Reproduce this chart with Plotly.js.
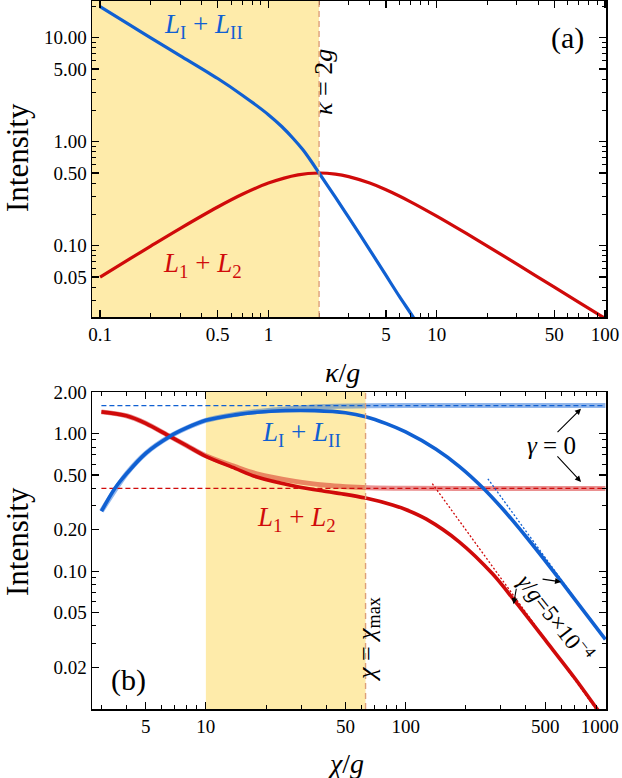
<!DOCTYPE html>
<html>
<head>
<meta charset="utf-8">
<script src="https://cdn.plot.ly/plotly-3.0.1.min.js"></script>
<style>html,body{margin:0;padding:0;background:#fff;}#chart{width:622px;height:778px;}</style>
</head>
<body>
<div id="chart"></div>
<script>
// ---------- Panel (a) data ----------
const kappaBlue = [0.1, 0.15, 0.2, 0.3, 0.5, 0.7, 1.0, 1.2, 1.4, 1.6, 1.8, 2.0, 2.5, 3.0, 4.0, 5.0, 6.0, 7.3, 8.0];
const blueA     = [19.9, 13.3, 9.95, 6.7, 4.05, 2.8, 1.82, 1.4, 1.08, 0.84, 0.645, 0.5, 0.293, 0.187, 0.0913, 0.0517, 0.0325, 0.0202, 0.0158];
const kappaRed  = [0.1, 0.15, 0.2, 0.3, 0.5, 0.7, 1, 1.5, 2, 2.5, 3, 4, 5, 7, 10, 15, 20, 30, 50, 70, 100];
const redA      = [0.0499, 0.0746, 0.099, 0.1467, 0.2353, 0.3118, 0.4, 0.48, 0.5, 0.4878, 0.4615, 0.4, 0.3448, 0.2642, 0.1923, 0.131, 0.099, 0.0664, 0.0399, 0.0285, 0.02];
const kappaMark = 2;          // kappa = 2g
const kappaTicks = [0.1, 0.5, 1, 5, 10, 50, 100];
const kappaTickText = ['0.1', '0.5', '1', '5', '10', '50', '100'];
const intTicksA = [0.05, 0.1, 0.5, 1, 5, 10];
const intTickTextA = ['0.05', '0.10', '0.50', '1.00', '5.00', '10.00'];

// ---------- Panel (b) data ----------
const chiBlue  = [3, 3.5, 4, 5, 6.6, 8, 10, 14, 18, 25, 35, 50, 63, 80, 100, 142, 186, 244, 307, 401, 500, 700, 1000];
const blueB    = [0.273, 0.40, 0.51, 0.72, 0.955, 1.1, 1.25, 1.37, 1.43, 1.47, 1.47, 1.42, 1.33, 1.184, 1.03, 0.771, 0.577, 0.403, 0.282, 0.178, 0.119, 0.063, 0.0319];
const chiRed   = [3, 4, 5, 6.6, 8, 10, 14, 18, 28, 40, 50, 63, 86, 100, 127, 186, 273, 351, 505, 700, 881, 1000];
const redB     = [1.44, 1.35, 1.19, 0.955, 0.82, 0.684, 0.56, 0.484, 0.415, 0.38, 0.362, 0.34, 0.303, 0.281, 0.239, 0.163, 0.0953, 0.061, 0.031, 0.0168, 0.0106, 0.0082];
const chiBlue0 = [3, 4, 5, 6.6, 8, 10, 14, 18, 25, 32, 45, 65, 100, 1000];
const blueB0   = [0.273, 0.51, 0.72, 0.955, 1.1, 1.25, 1.38, 1.45, 1.51, 1.55, 1.58, 1.595, 1.6, 1.6];
const chiRed0  = [3, 4, 5, 6.6, 8, 10, 14, 18, 28, 40, 50, 65, 100, 200, 1000];
const redB0    = [1.44, 1.35, 1.19, 0.955, 0.82, 0.69, 0.575, 0.51, 0.45, 0.422, 0.412, 0.405, 0.401, 0.4, 0.4];
const chiLimit = [3, 1000];
const blueLimit = [1.6, 1.6];
const redLimit  = [0.4, 0.4];
const chiAsymBlue = [258, 1000];
const blueAsym    = [0.47, 0.0314];
const chiAsymRed  = [136, 1000];
const redAsym     = [0.433, 0.008];
const chiShadeStart = 10;
const chiMax = 63;
const chiTicks = [5, 10, 50, 100, 500, 1000];
const chiTickText = ['5', '10', '50', '100', '500', '1000\u2009\u2009\u2009'];
const intTicksB = [0.02, 0.05, 0.1, 0.2, 0.5, 1, 2];
const intTickTextB = ['0.02', '0.05', '0.10', '0.20', '0.50', '1.00', '2.00'];

// ---------- style ----------
const BLUE = '#1060d2';
const RED = '#d00a0a';
const BLUE_L = 'rgba(16,96,210,0.45)';
const RED_L = 'rgba(208,10,10,0.45)';
const SHADE = '#feebaa';
const VLINE = '#dea07a';
const FONT = '"Liberation Serif", "DejaVu Serif", serif';

function minorVals(lo, hi) {
  const v = [];
  for (let e = lo; e <= hi; e++) for (let d = 2; d <= 9; d++) v.push(d * Math.pow(10, e));
  return v;
}

function axisBase(extra) {
  return Object.assign({
    type: 'log', showgrid: false, zeroline: false, showline: true, linecolor: 'black', linewidth: 1.5,
    mirror: 'allticks', ticks: 'inside', ticklen: 7, tickwidth: 1.2, tickcolor: 'black', ticklabeloverflow: 'allow',
    tickmode: 'array', tickfont: {family: FONT, size: 19, color: 'black'}, fixedrange: true
  }, extra);
}

const SPL = {shape: 'spline', smoothing: 0.9};
function ln(color, width, extra) { return Object.assign({color: color, width: width}, SPL, extra || {}); }

const traces = [
  {x: kappaRed, y: redA, xaxis: 'x', yaxis: 'y', mode: 'lines', line: ln(RED, 3.2), hoverinfo: 'skip'},
  {x: kappaBlue, y: blueA, xaxis: 'x', yaxis: 'y', mode: 'lines', line: ln(BLUE, 3.2), hoverinfo: 'skip'},
  {x: chiBlue0, y: blueB0, xaxis: 'x2', yaxis: 'y2', mode: 'lines', line: ln(BLUE_L, 5), hoverinfo: 'skip'},
  {x: chiRed0, y: redB0, xaxis: 'x2', yaxis: 'y2', mode: 'lines', line: ln(RED_L, 5), hoverinfo: 'skip'},
  {x: chiLimit, y: blueLimit, xaxis: 'x2', yaxis: 'y2', mode: 'lines', line: {color: BLUE, width: 1.3, dash: '5px,3px'}, hoverinfo: 'skip'},
  {x: chiLimit, y: redLimit, xaxis: 'x2', yaxis: 'y2', mode: 'lines', line: {color: RED, width: 1.3, dash: '5px,3px'}, hoverinfo: 'skip'},
  {x: chiAsymBlue, y: blueAsym, xaxis: 'x2', yaxis: 'y2', mode: 'lines', line: {color: BLUE, width: 1.3, dash: '2px,2px'}, hoverinfo: 'skip'},
  {x: chiAsymRed, y: redAsym, xaxis: 'x2', yaxis: 'y2', mode: 'lines', line: {color: RED, width: 1.3, dash: '2px,2px'}, hoverinfo: 'skip'},
  {x: chiRed, y: redB, xaxis: 'x2', yaxis: 'y2', mode: 'lines', line: ln(RED, 3.6), hoverinfo: 'skip'},
  {x: chiBlue, y: blueB, xaxis: 'x2', yaxis: 'y2', mode: 'lines', line: ln(BLUE, 3.6), hoverinfo: 'skip'}
];

const L = 92, W = 514, B = 709, H = 708;
const px = v => (v - L) / W;
const py = v => (B - v) / H;

function txt(text, x, y, size, color, angle) {
  return {text: text, xref: 'paper', yref: 'paper', x: px(x), y: py(y), xanchor: 'center', yanchor: 'middle',
    showarrow: false, textangle: angle || 0, font: {family: FONT, size: size, color: color || 'black'}};
}
function arrow(xLog, yLog, ax, ay) {
  return {text: '', xref: 'x2', yref: 'y2', x: xLog, y: yLog, ax: ax, ay: ay, showarrow: true,
    arrowhead: 2, arrowsize: 1.1, arrowwidth: 1.1, arrowcolor: 'black'};
}

const annotations = [
  txt('Intensity', 17, 158, 31, 'black', -90),
  txt('Intensity', 17, 542, 31, 'black', -90),
  txt('<i>κ</i>/<i>g</i>', 342, 372, 28),
  txt('<i>χ</i>/<i>g</i>', 345, 763, 28),
  txt('<i>L</i><sub>I</sub> + <i>L</i><sub>II</sub>', 203, 26, 27, BLUE),
  txt('<i>L</i><sub>1</sub> + <i>L</i><sub>2</sub>', 202, 265, 27, RED),
  txt('(a)', 567, 38, 30),
  txt('<i>κ</i> = 2<i>g</i>', 323, 82, 26, 'black', -90),
  txt('<i>L</i><sub>I</sub> + <i>L</i><sub>II</sub>', 301, 434, 27, BLUE),
  txt('<i>L</i><sub>1</sub> + <i>L</i><sub>2</sub>', 296, 519, 27, RED),
  txt('(b)', 128, 680, 30),
  txt('<i>χ</i> = <i>χ</i><sub>max</sub>', 368, 640, 26, 'black', -90),
  txt('<i>γ</i> = 0', 551, 446, 25),
  txt('<i>γ</i>/<i>g</i>=5×10<sup>−4</sup>', 556, 617, 23, 'black', 52),
  arrow(Math.log10(755), Math.log10(1.52), -25, 25),
  arrow(Math.log10(755), Math.log10(0.446), -25, -27),
  arrow(Math.log10(600), Math.log10(0.0836), -20, -3),
  arrow(Math.log10(347), Math.log10(0.0575), 3, -17)
];

const shapes = [
  {type: 'rect', xref: 'x', yref: 'y domain', x0: 0.01, x1: kappaMark, y0: 0, y1: 1, layer: 'below', line: {width: 0}, fillcolor: SHADE},
  {type: 'line', xref: 'x', yref: 'y domain', x0: kappaMark, x1: kappaMark, y0: 0, y1: 1, line: {color: VLINE, width: 1.4, dash: '6px,4px'}},
  {type: 'rect', xref: 'x2', yref: 'y2 domain', x0: chiShadeStart, x1: chiMax, y0: 0, y1: 1, layer: 'below', line: {width: 0}, fillcolor: SHADE},
  {type: 'line', xref: 'x2', yref: 'y2 domain', x0: chiMax, x1: chiMax, y0: 0, y1: 1, line: {color: VLINE, width: 1.4, dash: '6px,4px'}}
];

const layout = {
  width: 622, height: 778,
  margin: {l: L, r: 622 - L - W, t: 1, b: 778 - B},
  paper_bgcolor: 'white', plot_bgcolor: 'rgba(0,0,0,0)',
  showlegend: false,
  font: {family: FONT, color: 'black'},
  xaxis: axisBase({anchor: 'y', domain: [0, 1], range: [-1.048, 2.006], tickvals: kappaTicks, ticktext: kappaTickText,
    minor: {tickmode: 'array', tickvals: minorVals(-2, 2), ticks: 'inside', ticklen: 4, tickwidth: 1, tickcolor: 'black'}}),
  yaxis: axisBase({anchor: 'x', domain: [py(317), 1], range: [-1.686, 1.353], tickvals: intTicksA, ticktext: intTickTextA,
    minor: {tickmode: 'array', tickvals: minorVals(-2, 1), ticks: 'inside', ticklen: 4, tickwidth: 1, tickcolor: 'black'}}),
  xaxis2: axisBase({anchor: 'y2', domain: [0, 1], range: [0.43, 3.003], tickvals: chiTicks, ticktext: chiTickText,
    minor: {tickmode: 'array', tickvals: minorVals(0, 3), ticks: 'inside', ticklen: 4, tickwidth: 1, tickcolor: 'black'}}),
  yaxis2: axisBase({anchor: 'x2', domain: [0, py(392)], range: [-2.002, 0.303], tickvals: intTicksB, ticktext: intTickTextB,
    minor: {tickmode: 'array', tickvals: minorVals(-2, 0), ticks: 'inside', ticklen: 4, tickwidth: 1, tickcolor: 'black'}}),
  annotations: annotations,
  shapes: shapes
};

Plotly.newPlot('chart', traces, layout, {staticPlot: true, displayModeBar: false});
</script>
</body>
</html>
